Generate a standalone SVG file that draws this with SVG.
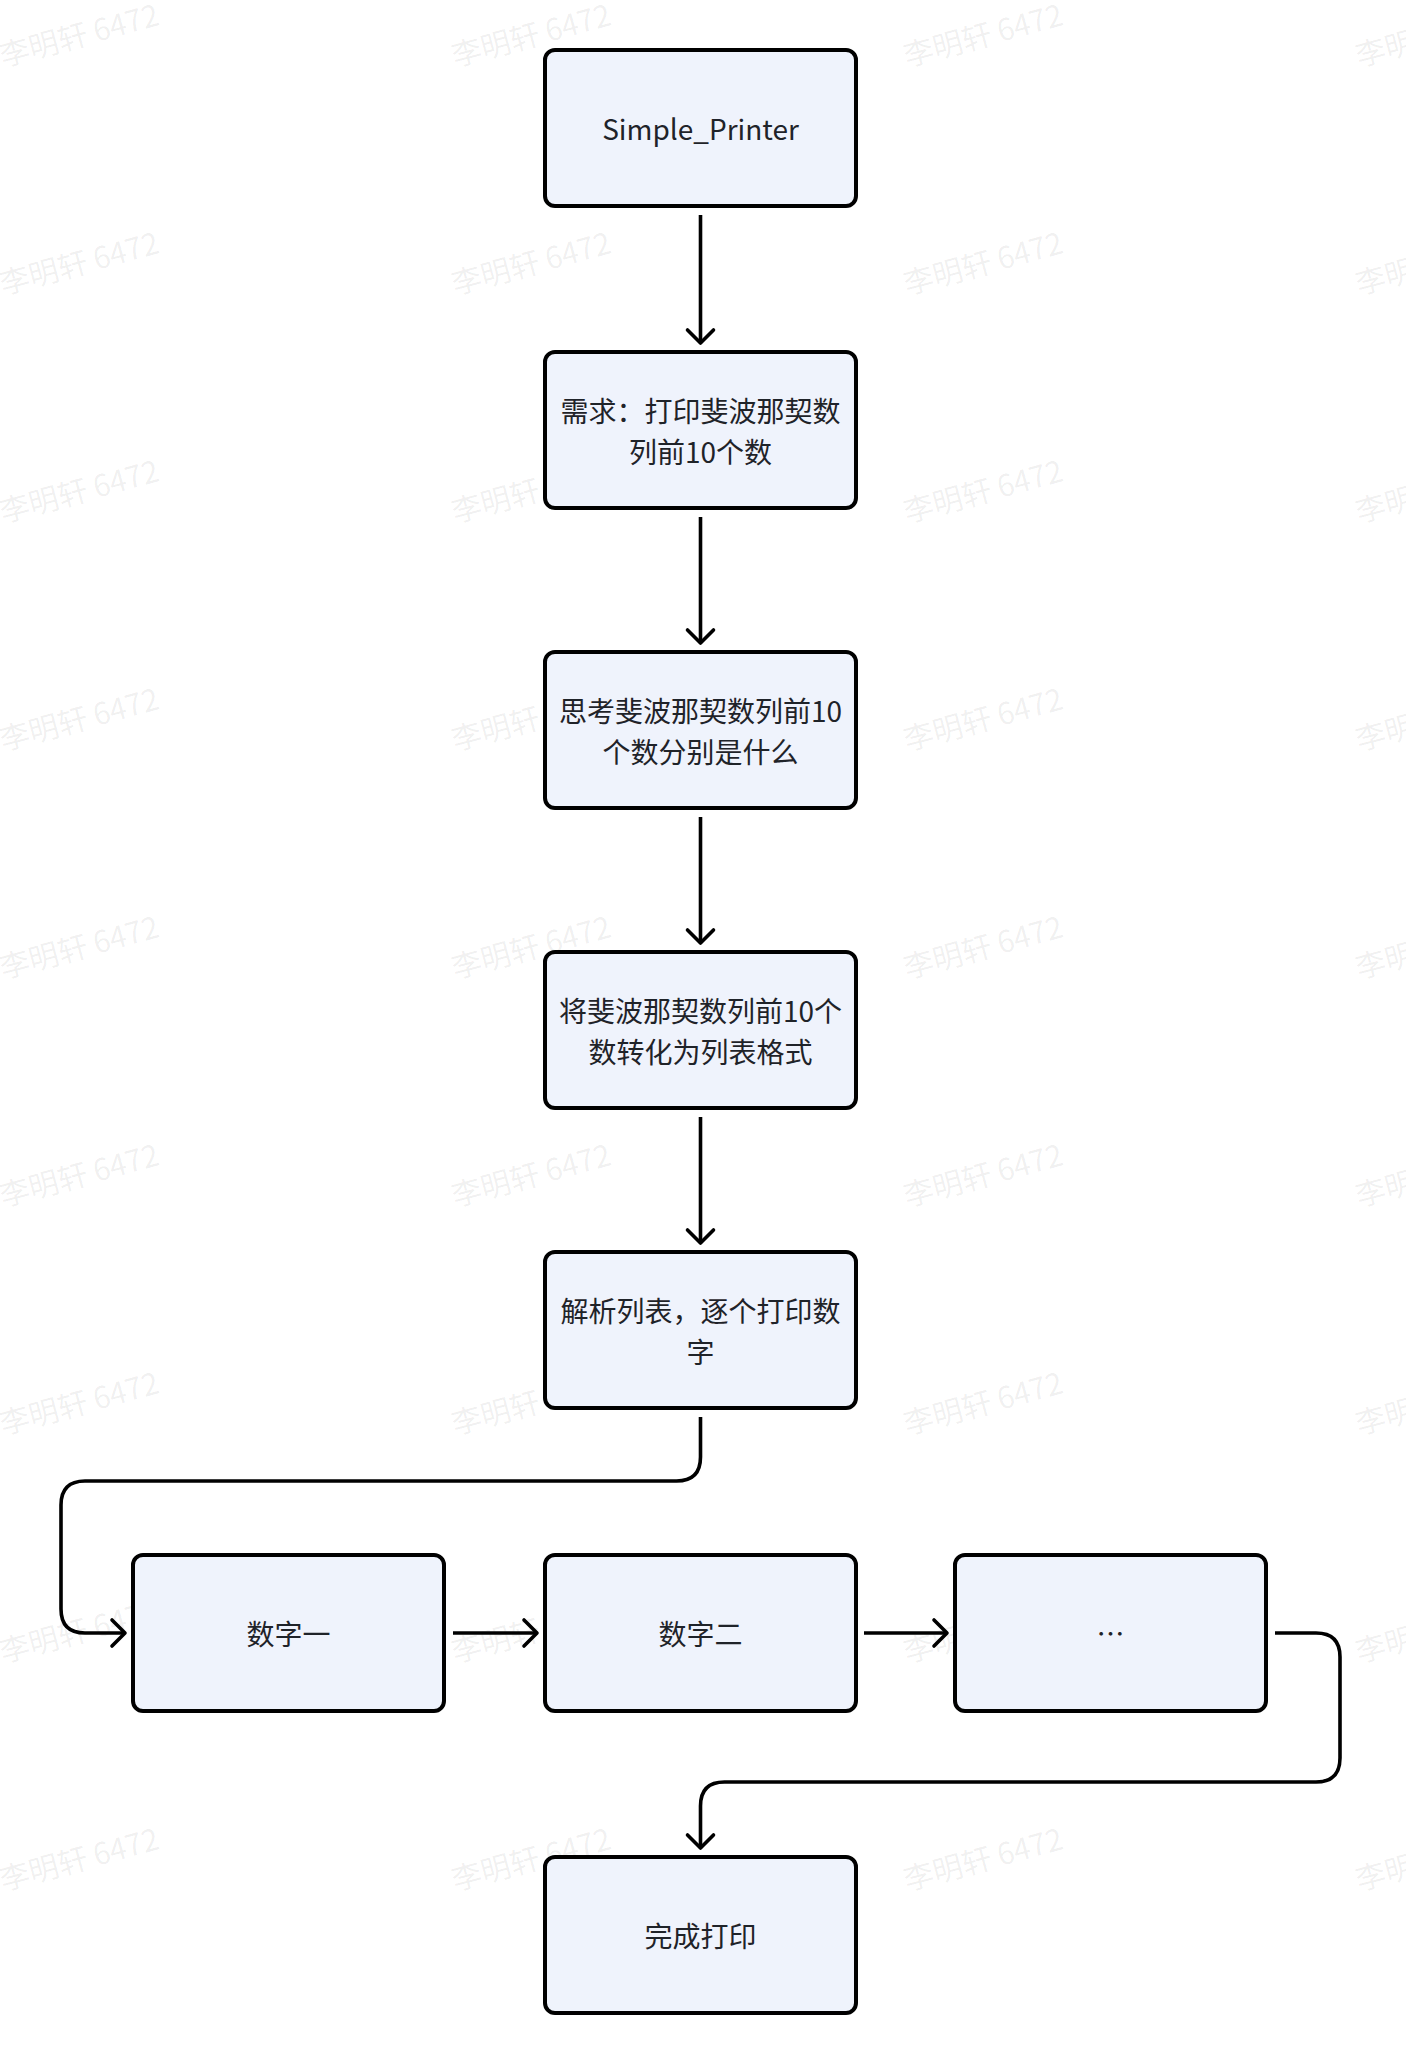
<svg xmlns="http://www.w3.org/2000/svg" width="1406" height="2064" viewBox="0 0 1406 2064">
<defs>
<style>
.node rect{fill:#eff3fc;stroke:#000;stroke-width:4}
.node text{font-family:"Noto Sans CJK SC","Noto Sans",sans-serif;font-size:28px;fill:#1f2329;text-anchor:middle;dominant-baseline:central}
.edge{fill:none;stroke:#000;stroke-width:3.6;stroke-linejoin:round;marker-end:url(#arr)}
.wm text{font-family:"Noto Sans CJK SC",sans-serif;font-size:30px;fill:#1f2329;fill-opacity:0.07}
</style>
<marker id="arr" markerUnits="userSpaceOnUse" markerWidth="40" markerHeight="40" viewBox="-20 -20 40 40" refX="0" refY="0" orient="auto">
<path d="M-13,-13 L0,0 L-13,13" fill="none" stroke="#000" stroke-width="3.6" stroke-linecap="round" stroke-linejoin="round"/>
</marker>
</defs>
<rect width="1406" height="2064" fill="#fff"/>
<g class="wm" id="watermarks">
<text transform="translate(3,67) rotate(-15)">李明轩 6472</text>
<text transform="translate(455,67) rotate(-15)">李明轩 6472</text>
<text transform="translate(907,67) rotate(-15)">李明轩 6472</text>
<text transform="translate(1359,67) rotate(-15)">李明轩 6472</text>
<text transform="translate(3,295) rotate(-15)">李明轩 6472</text>
<text transform="translate(455,295) rotate(-15)">李明轩 6472</text>
<text transform="translate(907,295) rotate(-15)">李明轩 6472</text>
<text transform="translate(1359,295) rotate(-15)">李明轩 6472</text>
<text transform="translate(3,523) rotate(-15)">李明轩 6472</text>
<text transform="translate(455,523) rotate(-15)">李明轩 6472</text>
<text transform="translate(907,523) rotate(-15)">李明轩 6472</text>
<text transform="translate(1359,523) rotate(-15)">李明轩 6472</text>
<text transform="translate(3,751) rotate(-15)">李明轩 6472</text>
<text transform="translate(455,751) rotate(-15)">李明轩 6472</text>
<text transform="translate(907,751) rotate(-15)">李明轩 6472</text>
<text transform="translate(1359,751) rotate(-15)">李明轩 6472</text>
<text transform="translate(3,979) rotate(-15)">李明轩 6472</text>
<text transform="translate(455,979) rotate(-15)">李明轩 6472</text>
<text transform="translate(907,979) rotate(-15)">李明轩 6472</text>
<text transform="translate(1359,979) rotate(-15)">李明轩 6472</text>
<text transform="translate(3,1207) rotate(-15)">李明轩 6472</text>
<text transform="translate(455,1207) rotate(-15)">李明轩 6472</text>
<text transform="translate(907,1207) rotate(-15)">李明轩 6472</text>
<text transform="translate(1359,1207) rotate(-15)">李明轩 6472</text>
<text transform="translate(3,1435) rotate(-15)">李明轩 6472</text>
<text transform="translate(455,1435) rotate(-15)">李明轩 6472</text>
<text transform="translate(907,1435) rotate(-15)">李明轩 6472</text>
<text transform="translate(1359,1435) rotate(-15)">李明轩 6472</text>
<text transform="translate(3,1663) rotate(-15)">李明轩 6472</text>
<text transform="translate(455,1663) rotate(-15)">李明轩 6472</text>
<text transform="translate(907,1663) rotate(-15)">李明轩 6472</text>
<text transform="translate(1359,1663) rotate(-15)">李明轩 6472</text>
<text transform="translate(3,1891) rotate(-15)">李明轩 6472</text>
<text transform="translate(455,1891) rotate(-15)">李明轩 6472</text>
<text transform="translate(907,1891) rotate(-15)">李明轩 6472</text>
<text transform="translate(1359,1891) rotate(-15)">李明轩 6472</text>
</g>
<g id="connectors">
<path class="edge" d="M700.5,215 V343"/>
<path class="edge" d="M700.5,517 V643"/>
<path class="edge" d="M700.5,817 V943"/>
<path class="edge" d="M700.5,1117 V1243"/>
<path class="edge" d="M700.5,1417 V1457 Q700.5,1481 676.5,1481 H85 Q61,1481 61,1505 V1609 Q61,1633 85,1633 H125"/>
<path class="edge" d="M453,1633 H537"/>
<path class="edge" d="M864,1633 H947"/>
<path class="edge" d="M1275,1633 H1316 Q1340,1633 1340,1657 V1758 Q1340,1782 1316,1782 H724.5 Q700.5,1782 700.5,1806 V1848"/>
</g>
<g class="node" id="n1"><rect x="545" y="50" width="311" height="156" rx="10"/><text x="700.5" y="128">Simple_Printer</text></g>
<g class="node" id="n2"><rect x="545" y="352" width="311" height="156" rx="10"/><text x="700.5" y="410">需求：打印斐波那契数</text><text x="700.5" y="451">列前10个数</text></g>
<g class="node" id="n3"><rect x="545" y="652" width="311" height="156" rx="10"/><text x="700.5" y="710">思考斐波那契数列前10</text><text x="700.5" y="751">个数分别是什么</text></g>
<g class="node" id="n4"><rect x="545" y="952" width="311" height="156" rx="10"/><text x="700.5" y="1010">将斐波那契数列前10个</text><text x="700.5" y="1051">数转化为列表格式</text></g>
<g class="node" id="n5"><rect x="545" y="1252" width="311" height="156" rx="10"/><text x="700.5" y="1310">解析列表，逐个打印数</text><text x="700.5" y="1351">字</text></g>
<g class="node" id="n6"><rect x="133" y="1555" width="311" height="156" rx="10"/><text x="288.5" y="1633">数字一</text></g>
<g class="node" id="n7"><rect x="545" y="1555" width="311" height="156" rx="10"/><text x="700.5" y="1633">数字二</text></g>
<g class="node" id="n8"><rect x="955" y="1555" width="311" height="156" rx="10"/><text x="1110.5" y="1633">…</text></g>
<g class="node" id="n9"><rect x="545" y="1857" width="311" height="156" rx="10"/><text x="700.5" y="1935">完成打印</text></g>
</svg>
